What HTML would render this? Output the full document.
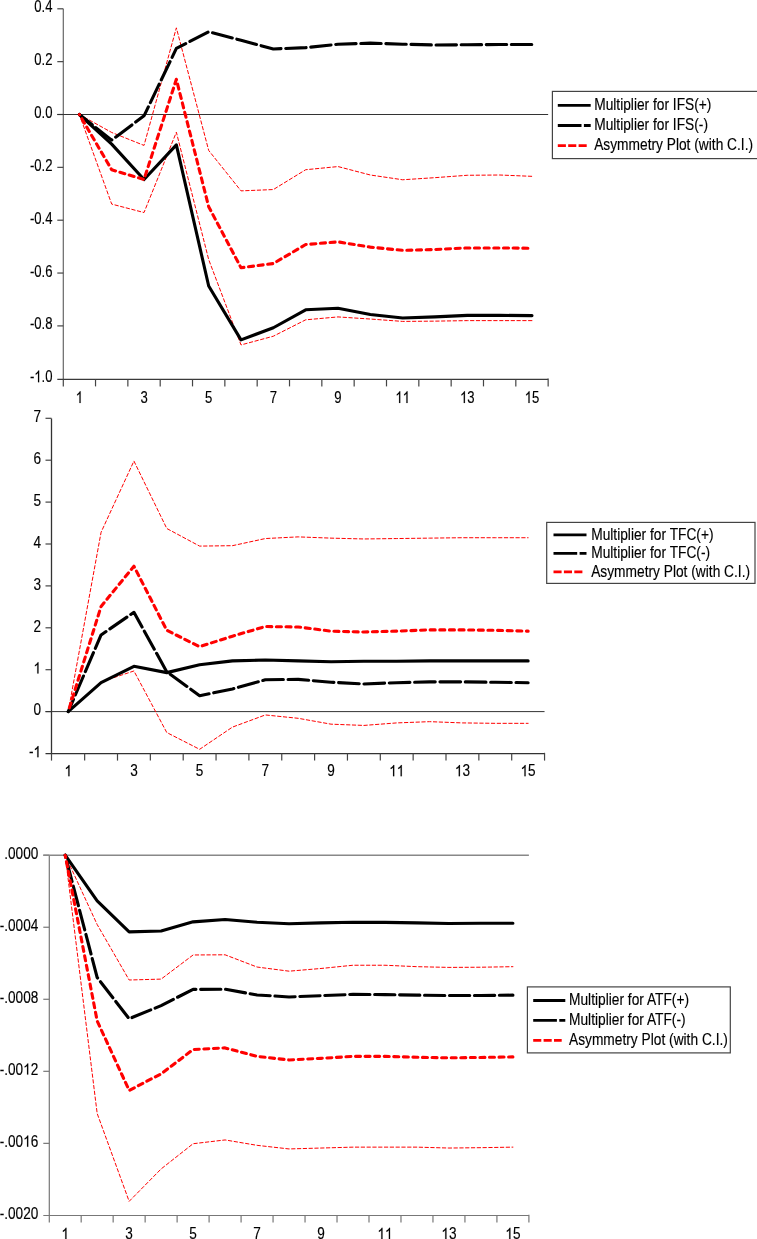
<!DOCTYPE html>
<html><head><meta charset="utf-8"><title>Asymmetric multiplier plots</title><style>
html,body{margin:0;padding:0;background:#fff;}
body{width:757px;height:1239px;overflow:hidden;}
svg{display:block;font-family:"Liberation Sans", sans-serif;filter:blur(0.35px);}
text{stroke:#000;stroke-width:0.15px;}
.g1{stroke:#000;stroke-width:0.15px;vector-effect:non-scaling-stroke;}
</style></head><body>
<svg width="757" height="1239" viewBox="0 0 757 1239">
<rect width="757" height="1239" fill="#fff"/>
<line x1="63.30" y1="8.70" x2="63.30" y2="379.40" stroke="#666" stroke-width="1.2" />
<line x1="57.30" y1="8.80" x2="63.30" y2="8.80" stroke="#444" stroke-width="1.2" />
<g transform="translate(52.50,12.30) scale(0.82,1.05)" fill="#000"><text x="-22.242" y="0" font-size="16">0.4</text></g>
<line x1="57.30" y1="61.65" x2="63.30" y2="61.65" stroke="#444" stroke-width="1.2" />
<g transform="translate(52.50,65.15) scale(0.82,1.05)" fill="#000"><text x="-22.242" y="0" font-size="16">0.2</text></g>
<line x1="57.30" y1="114.50" x2="63.30" y2="114.50" stroke="#444" stroke-width="1.2" />
<g transform="translate(52.50,118.00) scale(0.82,1.05)" fill="#000"><text x="-22.242" y="0" font-size="16">0.0</text></g>
<line x1="57.30" y1="167.35" x2="63.30" y2="167.35" stroke="#444" stroke-width="1.2" />
<g transform="translate(52.50,170.85) scale(0.82,1.05)" fill="#000"><text x="-27.570" y="0" font-size="16">-0.2</text></g>
<line x1="57.30" y1="220.20" x2="63.30" y2="220.20" stroke="#444" stroke-width="1.2" />
<g transform="translate(52.50,223.70) scale(0.82,1.05)" fill="#000"><text x="-27.570" y="0" font-size="16">-0.4</text></g>
<line x1="57.30" y1="273.05" x2="63.30" y2="273.05" stroke="#444" stroke-width="1.2" />
<g transform="translate(52.50,276.55) scale(0.82,1.05)" fill="#000"><text x="-27.570" y="0" font-size="16">-0.6</text></g>
<line x1="57.30" y1="325.90" x2="63.30" y2="325.90" stroke="#444" stroke-width="1.2" />
<g transform="translate(52.50,329.40) scale(0.82,1.05)" fill="#000"><text x="-27.570" y="0" font-size="16">-0.8</text></g>
<g transform="translate(52.50,382.25) scale(0.82,1.05)" fill="#000"><text x="-27.570" y="0" font-size="16">-</text><path class="g1" d="M763,0 L583,0 L583,1147 Q518,1085 412,1023 Q307,961 223,930 L223,1104 Q375,1175 489,1276 Q603,1377 643,1466 L763,1466 Z" transform="translate(-22.242,0) scale(0.007812,-0.007621)"/><text x="-13.344" y="0" font-size="16">.0</text></g>
<line x1="57.30" y1="379.40" x2="548.15" y2="379.40" stroke="#3a3a3a" stroke-width="1.2" />
<line x1="63.30" y1="379.40" x2="63.30" y2="386.40" stroke="#444" stroke-width="1.2" />
<line x1="95.53" y1="379.40" x2="95.53" y2="386.40" stroke="#444" stroke-width="1.2" />
<line x1="127.86" y1="379.40" x2="127.86" y2="386.40" stroke="#444" stroke-width="1.2" />
<line x1="160.19" y1="379.40" x2="160.19" y2="386.40" stroke="#444" stroke-width="1.2" />
<line x1="192.52" y1="379.40" x2="192.52" y2="386.40" stroke="#444" stroke-width="1.2" />
<line x1="224.85" y1="379.40" x2="224.85" y2="386.40" stroke="#444" stroke-width="1.2" />
<line x1="257.18" y1="379.40" x2="257.18" y2="386.40" stroke="#444" stroke-width="1.2" />
<line x1="289.51" y1="379.40" x2="289.51" y2="386.40" stroke="#444" stroke-width="1.2" />
<line x1="321.84" y1="379.40" x2="321.84" y2="386.40" stroke="#444" stroke-width="1.2" />
<line x1="354.17" y1="379.40" x2="354.17" y2="386.40" stroke="#444" stroke-width="1.2" />
<line x1="386.50" y1="379.40" x2="386.50" y2="386.40" stroke="#444" stroke-width="1.2" />
<line x1="418.83" y1="379.40" x2="418.83" y2="386.40" stroke="#444" stroke-width="1.2" />
<line x1="451.16" y1="379.40" x2="451.16" y2="386.40" stroke="#444" stroke-width="1.2" />
<line x1="483.49" y1="379.40" x2="483.49" y2="386.40" stroke="#444" stroke-width="1.2" />
<line x1="515.82" y1="379.40" x2="515.82" y2="386.40" stroke="#444" stroke-width="1.2" />
<line x1="548.15" y1="378.60" x2="548.15" y2="386.40" stroke="#444" stroke-width="1.2" />
<g transform="translate(79.37,403.00) scale(0.82,1.05)" fill="#000"><path class="g1" d="M763,0 L583,0 L583,1147 Q518,1085 412,1023 Q307,961 223,930 L223,1104 Q375,1175 489,1276 Q603,1377 643,1466 L763,1466 Z" transform="translate(-4.449,0) scale(0.007812,-0.007621)"/></g>
<g transform="translate(144.02,403.00) scale(0.82,1.05)" fill="#000"><text x="-4.449" y="0" font-size="16">3</text></g>
<g transform="translate(208.69,403.00) scale(0.82,1.05)" fill="#000"><text x="-4.449" y="0" font-size="16">5</text></g>
<g transform="translate(273.34,403.00) scale(0.82,1.05)" fill="#000"><text x="-4.449" y="0" font-size="16">7</text></g>
<g transform="translate(338.00,403.00) scale(0.82,1.05)" fill="#000"><text x="-4.449" y="0" font-size="16">9</text></g>
<g transform="translate(402.66,403.00) scale(0.82,1.05)" fill="#000"><path class="g1" d="M763,0 L583,0 L583,1147 Q518,1085 412,1023 Q307,961 223,930 L223,1104 Q375,1175 489,1276 Q603,1377 643,1466 L763,1466 Z" transform="translate(-8.898,0) scale(0.007812,-0.007621)"/><path class="g1" d="M763,0 L583,0 L583,1147 Q518,1085 412,1023 Q307,961 223,930 L223,1104 Q375,1175 489,1276 Q603,1377 643,1466 L763,1466 Z" transform="translate(0.000,0) scale(0.007812,-0.007621)"/></g>
<g transform="translate(467.32,403.00) scale(0.82,1.05)" fill="#000"><path class="g1" d="M763,0 L583,0 L583,1147 Q518,1085 412,1023 Q307,961 223,930 L223,1104 Q375,1175 489,1276 Q603,1377 643,1466 L763,1466 Z" transform="translate(-8.898,0) scale(0.007812,-0.007621)"/><text x="0.000" y="0" font-size="16">3</text></g>
<g transform="translate(531.99,403.00) scale(0.82,1.05)" fill="#000"><path class="g1" d="M763,0 L583,0 L583,1147 Q518,1085 412,1023 Q307,961 223,930 L223,1104 Q375,1175 489,1276 Q603,1377 643,1466 L763,1466 Z" transform="translate(-8.898,0) scale(0.007812,-0.007621)"/><text x="0.000" y="0" font-size="16">5</text></g>
<line x1="57.30" y1="114.50" x2="548.15" y2="114.50" stroke="#333" stroke-width="1" />
<polyline points="79.37,114.50 111.69,132.47 144.02,145.42 176.36,27.83 208.69,150.44 241.01,190.87 273.34,189.55 305.68,169.73 338.00,166.56 370.33,175.01 402.66,179.77 434.99,177.66 467.32,175.28 499.65,175.01 531.99,176.33" fill="none" stroke="#ff0000" stroke-width="1" stroke-dasharray="3.4 2.4" stroke-dashoffset="0.00" stroke-linecap="round" stroke-linejoin="round"/>
<polyline points="79.37,114.50 111.69,204.08 144.02,212.54 176.36,132.20 208.69,259.57 241.01,344.93 273.34,336.21 305.68,319.82 338.00,316.92 370.33,319.03 402.66,321.41 434.99,321.14 467.32,320.62 499.65,320.62 531.99,320.62" fill="none" stroke="#ff0000" stroke-width="1" stroke-dasharray="3.4 2.4" stroke-dashoffset="0.00" stroke-linecap="round" stroke-linejoin="round"/>
<polyline points="79.37,114.50 111.69,144.10 144.02,179.51 176.36,144.89 208.69,286.00 241.01,339.91 273.34,327.75 305.68,309.78 338.00,308.20 370.33,314.54 402.66,317.97 434.99,316.92 467.32,315.33 499.65,315.33 531.99,315.59" fill="none" stroke="#000" stroke-width="3.1" stroke-linecap="round" stroke-linejoin="round"/>
<polyline points="79.37,114.50 111.69,140.13 144.02,115.82 176.36,48.44 208.69,31.79 241.01,40.25 273.34,48.97 305.68,47.64 338.00,44.21 370.33,43.15 402.66,44.21 434.99,45.00 467.32,44.74 499.65,44.47 531.99,44.47" fill="none" stroke="#000" stroke-width="3.1" stroke-dasharray="20.40 4.70" stroke-dashoffset="4.03" stroke-linecap="round" stroke-linejoin="round"/>
<polyline points="79.37,114.50 111.69,169.73 144.02,179.51 176.36,79.35 208.69,206.72 241.01,267.76 273.34,263.54 305.68,244.51 338.00,241.87 370.33,247.15 402.66,250.32 434.99,249.53 467.32,247.95 499.65,247.95 531.99,248.21" fill="none" stroke="#ff0000" stroke-width="3.1" stroke-dasharray="5.07 4.60" stroke-dashoffset="4.75" stroke-linecap="round" stroke-linejoin="round"/>
<rect x="552.40" y="91.40" width="207.60" height="67.20" fill="#fff" stroke="#444" stroke-width="1.2"/>
<line x1="557.80" y1="105.30" x2="590.70" y2="105.30" stroke="#000" stroke-width="2.8" />
<line x1="557.80" y1="125.50" x2="590.70" y2="125.50" stroke="#000" stroke-width="2.8" stroke-dasharray="23.7 2.4"/>
<line x1="557.80" y1="145.70" x2="587.10" y2="145.70" stroke="#ff0000" stroke-width="2.8" stroke-dasharray="8.1 2.3"/>
<text transform="translate(594.20,109.80) scale(0.86,1.0)" font-size="16" text-anchor="start" fill="#000">Multiplier for IFS(+)</text>
<text transform="translate(594.20,129.60) scale(0.86,1.0)" font-size="16" text-anchor="start" fill="#000">Multiplier for IFS(-)</text>
<text transform="translate(594.20,150.20) scale(0.86,1.0)" font-size="16" text-anchor="start" fill="#000">Asymmetry Plot (with C.I.)</text>
<line x1="51.50" y1="418.50" x2="51.50" y2="753.60" stroke="#333" stroke-width="1.3" />
<line x1="45.50" y1="418.30" x2="51.50" y2="418.30" stroke="#444" stroke-width="1.2" />
<g transform="translate(41.00,422.00) scale(0.85,1.0)" fill="#000"><text x="-8.898" y="0" font-size="16">7</text></g>
<line x1="45.50" y1="460.20" x2="51.50" y2="460.20" stroke="#444" stroke-width="1.2" />
<g transform="translate(41.00,463.90) scale(0.85,1.0)" fill="#000"><text x="-8.898" y="0" font-size="16">6</text></g>
<line x1="45.50" y1="502.10" x2="51.50" y2="502.10" stroke="#444" stroke-width="1.2" />
<g transform="translate(41.00,505.80) scale(0.85,1.0)" fill="#000"><text x="-8.898" y="0" font-size="16">5</text></g>
<line x1="45.50" y1="544.00" x2="51.50" y2="544.00" stroke="#444" stroke-width="1.2" />
<g transform="translate(41.00,547.70) scale(0.85,1.0)" fill="#000"><text x="-8.898" y="0" font-size="16">4</text></g>
<line x1="45.50" y1="585.90" x2="51.50" y2="585.90" stroke="#444" stroke-width="1.2" />
<g transform="translate(41.00,589.60) scale(0.85,1.0)" fill="#000"><text x="-8.898" y="0" font-size="16">3</text></g>
<line x1="45.50" y1="627.80" x2="51.50" y2="627.80" stroke="#444" stroke-width="1.2" />
<g transform="translate(41.00,631.50) scale(0.85,1.0)" fill="#000"><text x="-8.898" y="0" font-size="16">2</text></g>
<line x1="45.50" y1="669.70" x2="51.50" y2="669.70" stroke="#444" stroke-width="1.2" />
<g transform="translate(41.00,673.40) scale(0.85,1.0)" fill="#000"><path class="g1" d="M763,0 L583,0 L583,1147 Q518,1085 412,1023 Q307,961 223,930 L223,1104 Q375,1175 489,1276 Q603,1377 643,1466 L763,1466 Z" transform="translate(-8.898,0) scale(0.007812,-0.007621)"/></g>
<line x1="45.50" y1="711.60" x2="51.50" y2="711.60" stroke="#444" stroke-width="1.2" />
<g transform="translate(41.00,715.30) scale(0.85,1.0)" fill="#000"><text x="-8.898" y="0" font-size="16">0</text></g>
<g transform="translate(41.00,757.20) scale(0.85,1.0)" fill="#000"><text x="-14.227" y="0" font-size="16">-</text><path class="g1" d="M763,0 L583,0 L583,1147 Q518,1085 412,1023 Q307,961 223,930 L223,1104 Q375,1175 489,1276 Q603,1377 643,1466 L763,1466 Z" transform="translate(-8.898,0) scale(0.007812,-0.007621)"/></g>
<line x1="45.50" y1="753.60" x2="544.55" y2="753.60" stroke="#333" stroke-width="1.2" />
<line x1="51.50" y1="753.60" x2="51.50" y2="760.60" stroke="#444" stroke-width="1.2" />
<line x1="84.65" y1="753.60" x2="84.65" y2="760.60" stroke="#444" stroke-width="1.2" />
<line x1="117.50" y1="753.60" x2="117.50" y2="760.60" stroke="#444" stroke-width="1.2" />
<line x1="150.35" y1="753.60" x2="150.35" y2="760.60" stroke="#444" stroke-width="1.2" />
<line x1="183.20" y1="753.60" x2="183.20" y2="760.60" stroke="#444" stroke-width="1.2" />
<line x1="216.05" y1="753.60" x2="216.05" y2="760.60" stroke="#444" stroke-width="1.2" />
<line x1="248.90" y1="753.60" x2="248.90" y2="760.60" stroke="#444" stroke-width="1.2" />
<line x1="281.75" y1="753.60" x2="281.75" y2="760.60" stroke="#444" stroke-width="1.2" />
<line x1="314.60" y1="753.60" x2="314.60" y2="760.60" stroke="#444" stroke-width="1.2" />
<line x1="347.45" y1="753.60" x2="347.45" y2="760.60" stroke="#444" stroke-width="1.2" />
<line x1="380.30" y1="753.60" x2="380.30" y2="760.60" stroke="#444" stroke-width="1.2" />
<line x1="413.15" y1="753.60" x2="413.15" y2="760.60" stroke="#444" stroke-width="1.2" />
<line x1="446.00" y1="753.60" x2="446.00" y2="760.60" stroke="#444" stroke-width="1.2" />
<line x1="478.85" y1="753.60" x2="478.85" y2="760.60" stroke="#444" stroke-width="1.2" />
<line x1="511.70" y1="753.60" x2="511.70" y2="760.60" stroke="#444" stroke-width="1.2" />
<line x1="544.55" y1="752.80" x2="544.55" y2="760.60" stroke="#444" stroke-width="1.2" />
<g transform="translate(68.22,776.20) scale(0.85,1.0)" fill="#000"><path class="g1" d="M763,0 L583,0 L583,1147 Q518,1085 412,1023 Q307,961 223,930 L223,1104 Q375,1175 489,1276 Q603,1377 643,1466 L763,1466 Z" transform="translate(-4.449,0) scale(0.007812,-0.007621)"/></g>
<g transform="translate(133.93,776.20) scale(0.85,1.0)" fill="#000"><text x="-4.449" y="0" font-size="16">3</text></g>
<g transform="translate(199.62,776.20) scale(0.85,1.0)" fill="#000"><text x="-4.449" y="0" font-size="16">5</text></g>
<g transform="translate(265.32,776.20) scale(0.85,1.0)" fill="#000"><text x="-4.449" y="0" font-size="16">7</text></g>
<g transform="translate(331.03,776.20) scale(0.85,1.0)" fill="#000"><text x="-4.449" y="0" font-size="16">9</text></g>
<g transform="translate(396.73,776.20) scale(0.85,1.0)" fill="#000"><path class="g1" d="M763,0 L583,0 L583,1147 Q518,1085 412,1023 Q307,961 223,930 L223,1104 Q375,1175 489,1276 Q603,1377 643,1466 L763,1466 Z" transform="translate(-8.898,0) scale(0.007812,-0.007621)"/><path class="g1" d="M763,0 L583,0 L583,1147 Q518,1085 412,1023 Q307,961 223,930 L223,1104 Q375,1175 489,1276 Q603,1377 643,1466 L763,1466 Z" transform="translate(0.000,0) scale(0.007812,-0.007621)"/></g>
<g transform="translate(462.43,776.20) scale(0.85,1.0)" fill="#000"><path class="g1" d="M763,0 L583,0 L583,1147 Q518,1085 412,1023 Q307,961 223,930 L223,1104 Q375,1175 489,1276 Q603,1377 643,1466 L763,1466 Z" transform="translate(-8.898,0) scale(0.007812,-0.007621)"/><text x="0.000" y="0" font-size="16">3</text></g>
<g transform="translate(528.12,776.20) scale(0.85,1.0)" fill="#000"><path class="g1" d="M763,0 L583,0 L583,1147 Q518,1085 412,1023 Q307,961 223,930 L223,1104 Q375,1175 489,1276 Q603,1377 643,1466 L763,1466 Z" transform="translate(-8.898,0) scale(0.007812,-0.007621)"/><text x="0.000" y="0" font-size="16">5</text></g>
<line x1="45.50" y1="711.60" x2="544.55" y2="711.60" stroke="#333" stroke-width="1" />
<polyline points="68.22,711.60 101.08,532.27 133.93,461.04 166.78,528.50 199.62,546.10 232.48,545.68 265.32,538.55 298.18,536.88 331.03,538.13 363.88,538.97 396.73,538.55 429.58,538.13 462.43,537.72 495.28,537.72 528.12,537.72" fill="none" stroke="#ff0000" stroke-width="1" stroke-dasharray="3.4 2.4" stroke-dashoffset="0.00" stroke-linecap="round" stroke-linejoin="round"/>
<polyline points="68.22,711.60 101.08,681.85 133.93,670.96 166.78,732.55 199.62,749.31 232.48,727.10 265.32,714.95 298.18,718.30 331.03,724.17 363.88,725.43 396.73,722.91 429.58,721.66 462.43,722.91 495.28,723.33 528.12,723.33" fill="none" stroke="#ff0000" stroke-width="1" stroke-dasharray="3.4 2.4" stroke-dashoffset="0.00" stroke-linecap="round" stroke-linejoin="round"/>
<polyline points="68.22,711.60 101.08,682.69 133.93,666.35 166.78,672.63 199.62,664.67 232.48,660.90 265.32,660.06 298.18,660.90 331.03,661.74 363.88,661.32 396.73,661.32 429.58,660.90 462.43,660.90 495.28,660.90 528.12,660.90" fill="none" stroke="#000" stroke-width="3.1" stroke-linecap="round" stroke-linejoin="round"/>
<polyline points="68.22,711.60 101.08,634.92 133.93,612.30 166.78,671.80 199.62,695.68 232.48,688.97 265.32,679.76 298.18,679.34 331.03,682.27 363.88,683.95 396.73,682.69 429.58,681.85 462.43,681.85 495.28,682.27 528.12,682.69" fill="none" stroke="#000" stroke-width="3.1" stroke-dasharray="20.65 4.70" stroke-dashoffset="7.28" stroke-linecap="round" stroke-linejoin="round"/>
<polyline points="68.22,711.60 101.08,606.43 133.93,566.21 166.78,630.31 199.62,646.65 232.48,636.18 265.32,626.54 298.18,626.96 331.03,631.15 363.88,631.99 396.73,631.15 429.58,629.89 462.43,629.89 495.28,630.31 528.12,631.15" fill="none" stroke="#ff0000" stroke-width="3.1" stroke-dasharray="5.03 4.60" stroke-dashoffset="5.71" stroke-linecap="round" stroke-linejoin="round"/>
<rect x="546.70" y="522.40" width="208.30" height="61.00" fill="#fff" stroke="#444" stroke-width="1.2"/>
<line x1="553.50" y1="534.80" x2="586.50" y2="534.80" stroke="#000" stroke-width="2.8" />
<line x1="553.50" y1="553.30" x2="586.50" y2="553.30" stroke="#000" stroke-width="2.8" stroke-dasharray="23.7 2.4"/>
<line x1="553.50" y1="571.80" x2="582.90" y2="571.80" stroke="#ff0000" stroke-width="2.8" stroke-dasharray="8.1 2.3"/>
<text transform="translate(591.20,539.60) scale(0.86,1.0)" font-size="16" text-anchor="start" fill="#000">Multiplier for TFC(+)</text>
<text transform="translate(591.20,558.10) scale(0.86,1.0)" font-size="16" text-anchor="start" fill="#000">Multiplier for TFC(-)</text>
<text transform="translate(591.20,576.60) scale(0.86,1.0)" font-size="16" text-anchor="start" fill="#000">Asymmetry Plot (with C.I.)</text>
<line x1="49.30" y1="855.20" x2="49.30" y2="1215.50" stroke="#777" stroke-width="1.2" />
<line x1="43.30" y1="855.20" x2="49.30" y2="855.20" stroke="#777" stroke-width="1.2" />
<g transform="translate(38.30,858.50) scale(0.85,1.0)" fill="#000"><text x="-40.039" y="0" font-size="16">.0000</text></g>
<line x1="43.30" y1="927.24" x2="49.30" y2="927.24" stroke="#777" stroke-width="1.2" />
<g transform="translate(38.30,930.54) scale(0.85,1.0)" fill="#000"><text x="-45.367" y="0" font-size="16">-.0004</text></g>
<line x1="43.30" y1="999.28" x2="49.30" y2="999.28" stroke="#777" stroke-width="1.2" />
<g transform="translate(38.30,1002.58) scale(0.85,1.0)" fill="#000"><text x="-45.367" y="0" font-size="16">-.0008</text></g>
<line x1="43.30" y1="1071.32" x2="49.30" y2="1071.32" stroke="#777" stroke-width="1.2" />
<g transform="translate(38.30,1074.62) scale(0.85,1.0)" fill="#000"><text x="-45.367" y="0" font-size="16">-.00</text><path class="g1" d="M763,0 L583,0 L583,1147 Q518,1085 412,1023 Q307,961 223,930 L223,1104 Q375,1175 489,1276 Q603,1377 643,1466 L763,1466 Z" transform="translate(-17.797,0) scale(0.007812,-0.007621)"/><text x="-8.898" y="0" font-size="16">2</text></g>
<line x1="43.30" y1="1143.36" x2="49.30" y2="1143.36" stroke="#777" stroke-width="1.2" />
<g transform="translate(38.30,1146.66) scale(0.85,1.0)" fill="#000"><text x="-45.367" y="0" font-size="16">-.00</text><path class="g1" d="M763,0 L583,0 L583,1147 Q518,1085 412,1023 Q307,961 223,930 L223,1104 Q375,1175 489,1276 Q603,1377 643,1466 L763,1466 Z" transform="translate(-17.797,0) scale(0.007812,-0.007621)"/><text x="-8.898" y="0" font-size="16">6</text></g>
<g transform="translate(38.30,1218.70) scale(0.85,1.0)" fill="#000"><text x="-45.367" y="0" font-size="16">-.0020</text></g>
<line x1="43.30" y1="1215.50" x2="528.90" y2="1215.50" stroke="#777" stroke-width="1.2" />
<line x1="49.30" y1="1215.50" x2="49.30" y2="1222.50" stroke="#777" stroke-width="1.2" />
<line x1="81.18" y1="1215.50" x2="81.18" y2="1222.50" stroke="#777" stroke-width="1.2" />
<line x1="113.16" y1="1215.50" x2="113.16" y2="1222.50" stroke="#777" stroke-width="1.2" />
<line x1="145.14" y1="1215.50" x2="145.14" y2="1222.50" stroke="#777" stroke-width="1.2" />
<line x1="177.12" y1="1215.50" x2="177.12" y2="1222.50" stroke="#777" stroke-width="1.2" />
<line x1="209.10" y1="1215.50" x2="209.10" y2="1222.50" stroke="#777" stroke-width="1.2" />
<line x1="241.08" y1="1215.50" x2="241.08" y2="1222.50" stroke="#777" stroke-width="1.2" />
<line x1="273.06" y1="1215.50" x2="273.06" y2="1222.50" stroke="#777" stroke-width="1.2" />
<line x1="305.04" y1="1215.50" x2="305.04" y2="1222.50" stroke="#777" stroke-width="1.2" />
<line x1="337.02" y1="1215.50" x2="337.02" y2="1222.50" stroke="#777" stroke-width="1.2" />
<line x1="369.00" y1="1215.50" x2="369.00" y2="1222.50" stroke="#777" stroke-width="1.2" />
<line x1="400.98" y1="1215.50" x2="400.98" y2="1222.50" stroke="#777" stroke-width="1.2" />
<line x1="432.96" y1="1215.50" x2="432.96" y2="1222.50" stroke="#777" stroke-width="1.2" />
<line x1="464.94" y1="1215.50" x2="464.94" y2="1222.50" stroke="#777" stroke-width="1.2" />
<line x1="496.92" y1="1215.50" x2="496.92" y2="1222.50" stroke="#777" stroke-width="1.2" />
<line x1="528.90" y1="1214.70" x2="528.90" y2="1222.50" stroke="#777" stroke-width="1.2" />
<g transform="translate(65.19,1239.00) scale(0.85,1.0)" fill="#000"><path class="g1" d="M763,0 L583,0 L583,1147 Q518,1085 412,1023 Q307,961 223,930 L223,1104 Q375,1175 489,1276 Q603,1377 643,1466 L763,1466 Z" transform="translate(-4.449,0) scale(0.007812,-0.007621)"/></g>
<g transform="translate(129.15,1239.00) scale(0.85,1.0)" fill="#000"><text x="-4.449" y="0" font-size="16">3</text></g>
<g transform="translate(193.11,1239.00) scale(0.85,1.0)" fill="#000"><text x="-4.449" y="0" font-size="16">5</text></g>
<g transform="translate(257.07,1239.00) scale(0.85,1.0)" fill="#000"><text x="-4.449" y="0" font-size="16">7</text></g>
<g transform="translate(321.03,1239.00) scale(0.85,1.0)" fill="#000"><text x="-4.449" y="0" font-size="16">9</text></g>
<g transform="translate(384.99,1239.00) scale(0.85,1.0)" fill="#000"><path class="g1" d="M763,0 L583,0 L583,1147 Q518,1085 412,1023 Q307,961 223,930 L223,1104 Q375,1175 489,1276 Q603,1377 643,1466 L763,1466 Z" transform="translate(-8.898,0) scale(0.007812,-0.007621)"/><path class="g1" d="M763,0 L583,0 L583,1147 Q518,1085 412,1023 Q307,961 223,930 L223,1104 Q375,1175 489,1276 Q603,1377 643,1466 L763,1466 Z" transform="translate(0.000,0) scale(0.007812,-0.007621)"/></g>
<g transform="translate(448.95,1239.00) scale(0.85,1.0)" fill="#000"><path class="g1" d="M763,0 L583,0 L583,1147 Q518,1085 412,1023 Q307,961 223,930 L223,1104 Q375,1175 489,1276 Q603,1377 643,1466 L763,1466 Z" transform="translate(-8.898,0) scale(0.007812,-0.007621)"/><text x="0.000" y="0" font-size="16">3</text></g>
<g transform="translate(512.91,1239.00) scale(0.85,1.0)" fill="#000"><path class="g1" d="M763,0 L583,0 L583,1147 Q518,1085 412,1023 Q307,961 223,930 L223,1104 Q375,1175 489,1276 Q603,1377 643,1466 L763,1466 Z" transform="translate(-8.898,0) scale(0.007812,-0.007621)"/><text x="0.000" y="0" font-size="16">5</text></g>
<line x1="43.30" y1="855.20" x2="528.90" y2="855.20" stroke="#888" stroke-width="1.6" />
<polyline points="65.19,855.20 97.17,924.54 129.15,980.01 161.13,979.11 193.11,954.98 225.09,954.80 257.07,967.04 289.05,971.18 321.03,968.48 353.01,965.24 384.99,965.24 416.97,966.68 448.95,967.40 480.93,967.22 512.91,966.68" fill="none" stroke="#ff0000" stroke-width="1" stroke-dasharray="3.4 2.4" stroke-dashoffset="0.00" stroke-linecap="round" stroke-linejoin="round"/>
<polyline points="65.19,855.20 97.17,1113.46 129.15,1201.35 161.13,1168.93 193.11,1143.72 225.09,1139.94 257.07,1145.34 289.05,1148.94 321.03,1148.04 353.01,1147.14 384.99,1147.14 416.97,1147.14 448.95,1148.04 480.93,1147.68 512.91,1147.14" fill="none" stroke="#ff0000" stroke-width="1" stroke-dasharray="3.4 2.4" stroke-dashoffset="0.00" stroke-linecap="round" stroke-linejoin="round"/>
<polyline points="65.19,855.20 97.17,900.77 129.15,931.92 161.13,931.02 193.11,921.84 225.09,919.50 257.07,922.20 289.05,923.82 321.03,922.92 353.01,922.20 384.99,922.38 416.97,922.92 448.95,923.46 480.93,923.28 512.91,923.28" fill="none" stroke="#000" stroke-width="3.1" stroke-linecap="round" stroke-linejoin="round"/>
<polyline points="65.19,855.20 97.17,977.49 129.15,1018.73 161.13,1005.58 193.11,989.37 225.09,989.19 257.07,994.96 289.05,996.94 321.03,995.68 353.01,994.42 384.99,994.60 416.97,995.14 448.95,995.50 480.93,995.50 512.91,995.14" fill="none" stroke="#000" stroke-width="3.1" stroke-dasharray="20.25 4.70" stroke-dashoffset="17.91" stroke-linecap="round" stroke-linejoin="round"/>
<polyline points="65.19,855.20 97.17,1020.89 129.15,1090.41 161.13,1073.84 193.11,1049.53 225.09,1047.91 257.07,1056.37 289.05,1059.97 321.03,1058.35 353.01,1056.37 384.99,1056.37 416.97,1057.27 448.95,1057.81 480.93,1057.45 512.91,1056.91" fill="none" stroke="#ff0000" stroke-width="3.1" stroke-dasharray="4.97 4.60" stroke-dashoffset="2.75" stroke-linecap="round" stroke-linejoin="round"/>
<rect x="527.40" y="986.90" width="202.90" height="66.00" fill="#fff" stroke="#444" stroke-width="1.2"/>
<line x1="533.20" y1="1000.50" x2="565.30" y2="1000.50" stroke="#000" stroke-width="2.8" />
<line x1="533.20" y1="1020.30" x2="565.30" y2="1020.30" stroke="#000" stroke-width="2.8" stroke-dasharray="23.7 2.4"/>
<line x1="533.20" y1="1040.40" x2="561.70" y2="1040.40" stroke="#ff0000" stroke-width="2.8" stroke-dasharray="8.1 2.3"/>
<text transform="translate(569.00,1005.00) scale(0.86,1.0)" font-size="16" text-anchor="start" fill="#000">Multiplier for ATF(+)</text>
<text transform="translate(569.00,1025.00) scale(0.86,1.0)" font-size="16" text-anchor="start" fill="#000">Multiplier for ATF(-)</text>
<text transform="translate(569.00,1045.40) scale(0.86,1.0)" font-size="16" text-anchor="start" fill="#000">Asymmetry Plot (with C.I.)</text>
</svg>
</body></html>
